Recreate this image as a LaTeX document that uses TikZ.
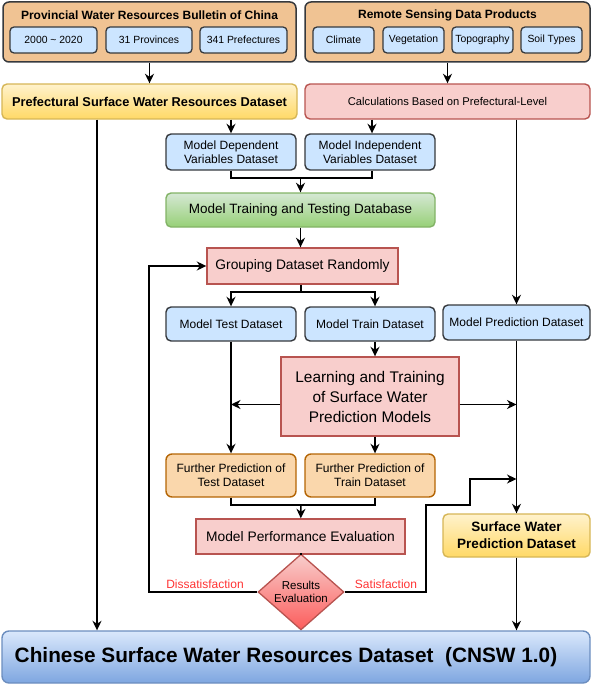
\documentclass[tikz,border=0pt]{standalone}
\usepackage{fontspec}
\setmainfont{Liberation Sans}
\usetikzlibrary{arrows.meta, shapes.geometric}
\definecolor{dark}{HTML}{36393D}
\definecolor{orangefill}{HTML}{F0C393}
\definecolor{bluefill}{HTML}{CCE5FF}
\definecolor{pinkfill}{HTML}{F8CECC}
\definecolor{pinkline}{HTML}{B85450}
\definecolor{yellowtop}{HTML}{FFF2CC}
\definecolor{yellowbot}{HTML}{FFD966}
\definecolor{yellowline}{HTML}{D6B656}
\definecolor{greentop}{HTML}{D5E8D4}
\definecolor{greenbot}{HTML}{97D077}
\definecolor{greenline}{HTML}{82B366}
\definecolor{peachfill}{HTML}{FAD7AC}
\definecolor{peachline}{HTML}{B46504}
\definecolor{cnswtop}{HTML}{DAE8FC}
\definecolor{cnswbot}{HTML}{7EA6E0}
\definecolor{cnswline}{HTML}{6C8EBF}
\definecolor{redtext}{HTML}{FF3333}
\tikzset{
  >={Stealth[length=9.5pt,width=9pt,inset=3pt]},
  every node/.style={inner sep=0pt, align=center},
  source/.style={draw=dark, line width=1.5pt, rounded corners=6pt, fill=orangefill},
  item/.style={draw=dark, line width=1.3pt, rounded corners=4pt, fill=bluefill,
    minimum height=26pt, font=\fontsize{10.4}{12}\selectfont},
  dataset/.style={draw=dark, line width=1.4pt, rounded corners=5pt, fill=bluefill,
    minimum width=130pt, font=\fontsize{12}{14.5}\selectfont},
  result/.style={draw=yellowline, line width=1.4pt, rounded corners=5pt,
    top color=yellowtop, bottom color=yellowbot, font=\fontsize{13.5}{17}\selectfont\bfseries},
  process/.style={draw=pinkline, line width=1.4pt, fill=pinkfill},
  further/.style={draw=peachline, line width=1.4pt, rounded corners=6pt, fill=peachfill,
    minimum width=130pt, minimum height=43pt, font=\fontsize{12}{14.3}\selectfont},
  decision/.style={diamond, draw=pinkline, line width=1.3pt, top color=pinkfill, bottom color=red!55!pinkfill,
    minimum width=86pt, minimum height=56pt, font=\fontsize{11.5}{13.7}\selectfont},
  note/.style={text=redtext, font=\fontsize{12}{14}\selectfont},
  link/.style={line width=1.5pt},
}

\begin{document}
\begin{tikzpicture}[x=1pt, y=-1pt]
  \useasboundingbox (0,0) rectangle (593,685);

  % sources
  \node[source, minimum width=293pt, minimum height=60pt] (prov) at (149.5,32) {};
  \node[font=\fontsize{12}{14}\selectfont\bfseries] (provt) at (149.5,15) {Provincial Water Resources Bulletin of China};
  \node[item, minimum width=87pt] (years) at (53.5,40) {2000 \textasciitilde{} 2020};
  \node[item, minimum width=86pt] (provs) at (149,40) {31 Provinces};
  \node[item, minimum width=87pt] (prefs) at (243.5,40) {341 Prefectures};

  \node[source, minimum width=285pt, minimum height=60pt] (remote) at (447.5,32) {};
  \node[font=\fontsize{12}{14}\selectfont\bfseries] (remotet) at (447.5,15) {Remote Sensing Data Products};
  \node[item, minimum width=61pt] (clim) at (343.5,40) {Climate};
  \node[item, minimum width=61pt] (veg) at (413.5,40) {Vegetation};
  \node[item, minimum width=61pt] (topo) at (482.5,40) {Topography};
  \node[item, minimum width=61pt] (soil) at (551.5,40) {Soil Types};

  % datasets and steps
  \node[result, minimum width=295pt, minimum height=35pt, font=\fontsize{12.8}{15}\selectfont\bfseries] (pref) at (149.5,101.5) {Prefectural Surface Water Resources Dataset};
  \node[process, rounded corners=5pt, minimum width=285pt, minimum height=35pt, font=\fontsize{11.2}{13}\selectfont] (calc) at (447.5,101.5) {Calculations Based on Prefectural-Level};
  \node[dataset, minimum height=36pt] (dep) at (231,152) {Model Dependent\\Variables Dataset};
  \node[dataset, minimum height=36pt] (indep) at (370,152) {Model Independent\\Variables Dataset};
  \node[draw=greenline, line width=1.4pt, rounded corners=5pt, top color=greentop, bottom color=greenbot,
    minimum width=269pt, minimum height=34pt, font=\fontsize{13.5}{16}\selectfont] (base) at (300.5,210) {Model Training and Testing Database};
  \node[process, minimum width=191pt, minimum height=36pt, font=\fontsize{13.8}{16}\selectfont] (group) at (302.5,266) {Grouping Dataset Randomly};
  \node[dataset, minimum height=34pt] (test) at (231,324) {Model Test Dataset};
  \node[dataset, minimum height=34pt] (train) at (370,324) {Model Train Dataset};
  \node[dataset, minimum width=147pt, minimum height=35pt] (pred) at (516.5,322.5) {Model Prediction Dataset};
  \node[process, minimum width=178pt, minimum height=79pt, font=\fontsize{15.4}{20}\selectfont] (learn) at (370,396.5) {Learning and Training\\of Surface Water\\Prediction Models};
  \node[further] (ftest) at (231,475.5) {Further Prediction of\\Test Dataset};
  \node[further] (ftrain) at (370,475.5) {Further Prediction of\\Train Dataset};
  \node[process, minimum width=209pt, minimum height=35pt, font=\fontsize{13.8}{16}\selectfont] (perf) at (300.5,536.5) {Model Performance Evaluation};
  \node[decision] (dec) at (301,592) {Results\\Evaluation};
  \node[result, minimum width=147pt, minimum height=43pt] (swp) at (516.5,535.5) {Surface Water\\Prediction Dataset};
  \node[draw=cnswline, line width=1.4pt, rounded corners=7pt, top color=cnswtop, bottom color=cnswbot,
    minimum width=588pt, minimum height=52pt] (cnsw) at (296,657) {};
  \node[font=\fontsize{20.8}{24}\selectfont\bfseries] (cnswt) at (286,657) {Chinese Surface Water Resources Dataset~~(CNSW 1.0)};
  \node[note] (dlab) at (205,584) {Dissatisfaction};
  \node[note] (slab) at (386,584) {Satisfaction};

  % helper points
  \coordinate (p) at (97,0);
  \coordinate (c) at (375,0);
  \coordinate (m1) at (300.5,178);
  \coordinate (s1) at (301,292);
  \coordinate (m2) at (301,505);
  \coordinate (dis) at (149,266);
  \coordinate (sat) at (426,505);
  \coordinate (jog) at (470,479);

  % connectors
  \draw[link, ->] (prov) -- (pref);
  \draw[link, ->] (remote) -- (calc);
  \draw[link, ->] (pref.south -| p) -- (cnsw.north -| p);
  \draw[link, ->] (pref.south -| dep) -- (dep);
  \draw[link, ->] ([xshift=2pt]calc.south -| indep) -- ([xshift=2pt]indep.north);
  \draw[link, ->] (calc.south -| pred) -- (pred);
  \draw[link] (dep.south) |- (m1) -| ([xshift=2pt]indep.south);
  \draw[link, ->] (m1) -- (base);
  \draw[link, ->] (base.south) -- (base.south |- group.north);
  \draw[link] (group.south -| s1) -- (s1);
  \draw[link, ->] (s1) -| (test);
  \draw[link, ->] (s1) -| (train.north -| c);
  \draw[link, ->] (train.south -| c) -- (learn.north -| c);
  \draw[link, ->] (test) -- (ftest);
  \draw[link, ->] ([yshift=-8pt]learn.west) -- ([yshift=-8pt]learn.west -| test);
  \draw[link, ->] ([yshift=-8pt]learn.east) -- ([yshift=-8pt]learn.east -| pred);
  \draw[link, ->] (learn.south -| c) -- (ftrain.north -| c);
  \draw[link] (ftest.south) |- (m2) -| (ftrain.south -| c);
  \draw[link, ->] (m2) -- (perf);
  \draw[link] (perf.south -| dec) -- (dec);
  \draw[link, ->] (dec.west) -| (dis) -- (group.west);
  \draw[link, ->] (dec.east) -| (sat) -| (jog) -- (jog -| pred);
  \draw[link, ->] (pred) -- (swp);
  \draw[link, ->] (swp.south) -- (swp.south |- cnsw.north);
\end{tikzpicture}
\end{document}
